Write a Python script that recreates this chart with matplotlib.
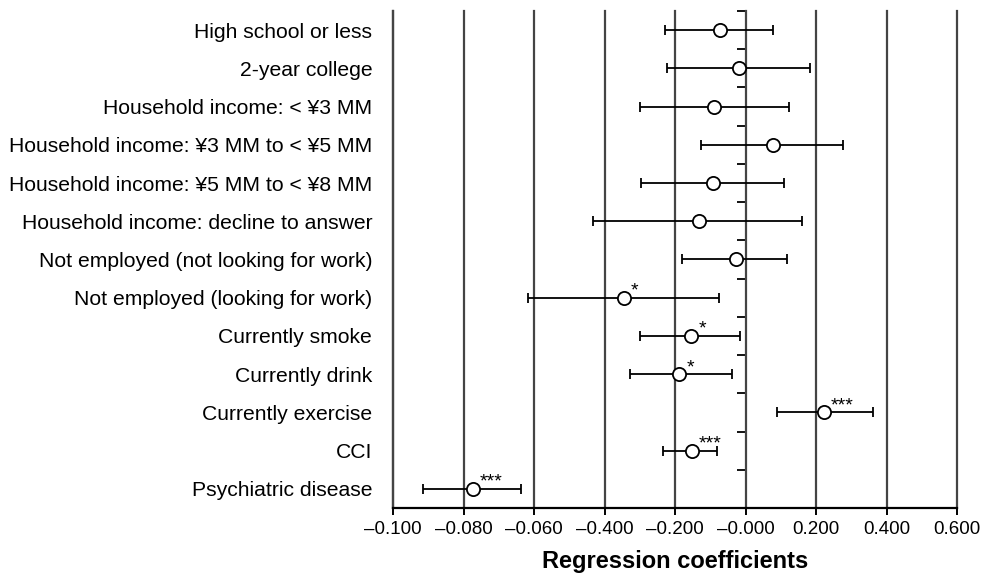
import numpy as np
from matplotlib import pyplot as plt

plt.rcParams['font.family'] = ['Liberation Sans', 'DejaVu Sans']

variables = [
    'High school or less',
    '2-year college',
    'Household income: < ¥3 MM',
    'Household income: ¥3 MM to < ¥5 MM',
    'Household income: ¥5 MM to < ¥8 MM',
    'Household income: decline to answer',
    'Not employed (not looking for work)',
    'Not employed (looking for work)',
    'Currently smoke',
    'Currently drink',
    'Currently exercise',
    'CCI',
    'Psychiatric disease',
]
coefs = [-0.071, -0.019, -0.088, 0.079, -0.091, -0.132, -0.028,
         -0.346, -0.154, -0.188, 0.222, -0.152, -0.774]
ci_low = [-0.229, -0.224, -0.300, -0.127, -0.296, -0.432, -0.181,
          -0.617, -0.298, -0.328, 0.088, -0.233, -0.915]
ci_high = [0.079, 0.184, 0.122, 0.276, 0.110, 0.161, 0.117,
           -0.076, -0.017, -0.037, 0.361, -0.080, -0.637]
stars = ['', '', '', '', '', '', '', '*', '*', '*', '***', '***', '***']

# tick labels as printed in the original figure
tick_values = [-1.0, -0.8, -0.6, -0.4, -0.2, 0.0, 0.2, 0.4, 0.6]
tick_labels = ['\u20130.100', '\u20130.080', '\u20130.060', '\u20130.400',
               '\u20130.200', '\u20130.000', '0.200', '0.400', '0.600']


def plot_coefficients(save_to='out.png'):
    fig = plt.figure(figsize=(9.86, 5.75), dpi=100)
    ax = fig.add_axes([0.3986, 0.1165, 0.5720, 0.8644])

    y = np.arange(len(variables))
    coefs_a = np.array(coefs)
    err = np.vstack((coefs_a - np.array(ci_low), np.array(ci_high) - coefs_a))
    ax.errorbar(coefs_a, y, xerr=err, fmt='o', color='black', ecolor='black',
                elinewidth=1.3, capsize=3.5, capthick=1.3, markersize=9.5,
                markerfacecolor='white', markeredgecolor='black',
                markeredgewidth=1.3, zorder=3)

    for xi, yi, s in zip(coefs, y, stars):
        if s:
            ax.annotate(s, (xi, yi), xytext=(5, 1.5), textcoords='offset points',
                        ha='left', va='baseline', fontsize=14)

    ax.set_xlim(tick_values[0], tick_values[-1])
    ax.set_ylim(len(variables) - 0.5, -0.5)
    ax.set_xticks(tick_values)
    ax.set_xticklabels(tick_labels)
    ax.set_yticks(y)
    ax.set_yticklabels(variables)
    ax.tick_params(axis='y', length=0, pad=15, labelsize=15.2)
    ax.tick_params(axis='x', length=5, width=1.4, pad=4, labelsize=13.5)
    ax.grid(axis='x', color='#444444', linewidth=1.6)
    for line in ax.get_xgridlines():
        line.set_clip_on(False)
    ax.set_axisbelow(True)

    for side in ['top', 'right']:
        ax.spines[side].set_visible(False)
    ax.spines['left'].set_color('#444444')
    ax.spines['left'].set_linewidth(1.6)
    ax.spines['bottom'].set_linewidth(1.6)

    # zero axis with ticks between the rows
    zero_pos = (0 - tick_values[0]) / (tick_values[-1] - tick_values[0])
    sec = ax.secondary_yaxis(zero_pos)
    sec.set_alignment('left')
    sec.set_yticks(np.arange(len(variables) + 1) - 0.5)
    sec.tick_params(length=6.5, width=1.3, labelleft=False, labelright=False)
    sec.spines['left'].set_linewidth(1.4)
    sec.spines['left'].set_color('black')

    ax.set_xlabel('Regression coefficients', fontsize=17, fontweight='bold',
                  labelpad=9)

    if save_to is not None:
        plt.savefig(save_to)
        print('Saved figure to: %s' % save_to)


if __name__ == '__main__':
    plot_coefficients()
